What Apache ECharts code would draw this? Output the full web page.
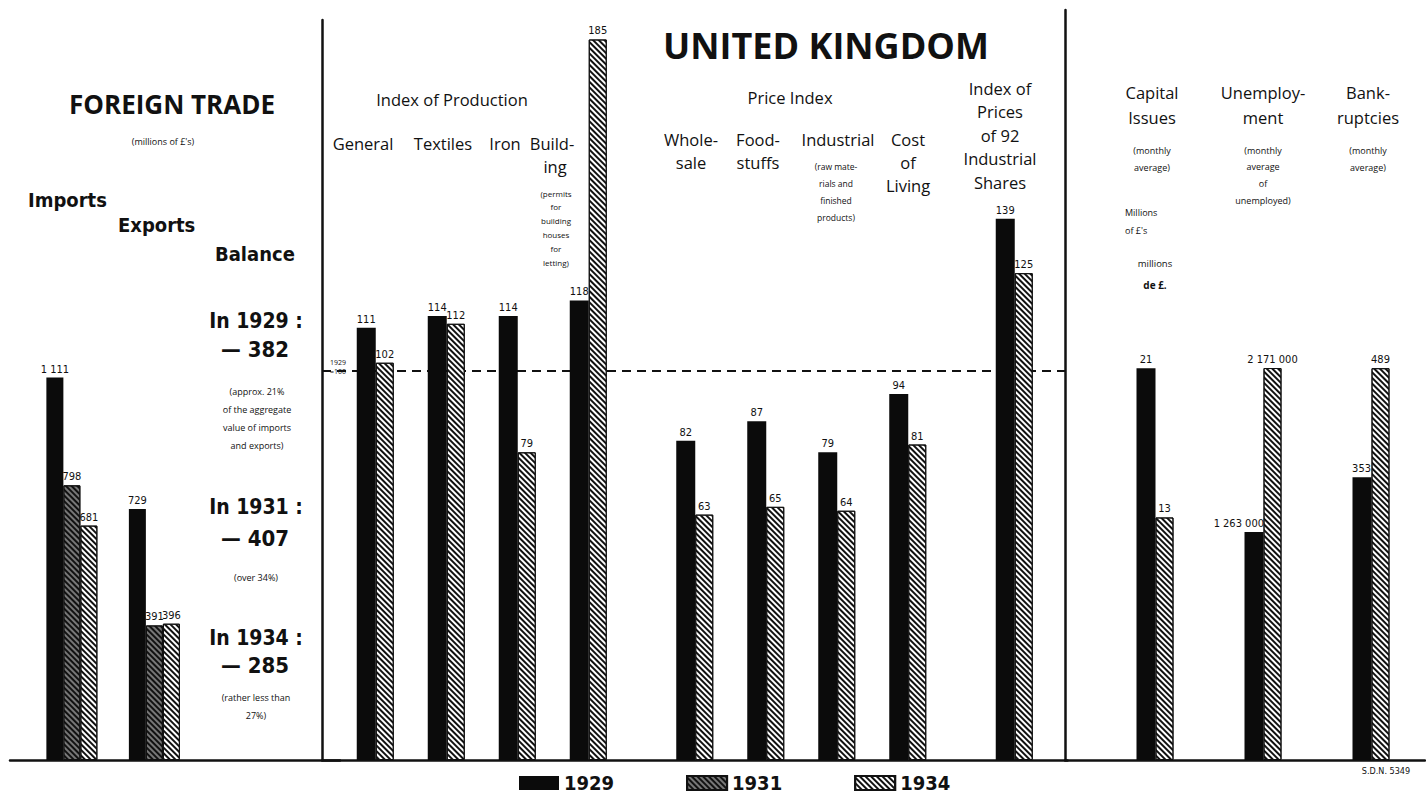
<!DOCTYPE html>
<html>
<head>
<meta charset="utf-8">
<title>United Kingdom</title>
<script src="https://cdn.jsdelivr.net/npm/echarts@6/dist/echarts.min.js"></script>
<style>
  html, body { margin: 0; padding: 0; background: #fff; }
  #chart { width: 1426px; height: 797px; }
</style>
</head>
<body>
<div id="chart"></div>
<script>
// foreign trade, millions of £'s
var tradeGroups = ['Imports', 'Exports']
var trade1929 = [1111, 729]
var trade1931 = [798, 391]
var trade1934 = [681, 396]

// index numbers (1929 = 100)
var indexGroups = ['General', 'Textiles', 'Iron', 'Building', 'Wholesale', 'Foodstuffs', 'Industrial', 'Cost of Living', 'Industrial Shares']
var index1929 = [111, 114, 114, 118, 82, 87, 79, 94, 139]
var index1934 = [102, 112, 79, 185, 63, 65, 64, 81, 125]
var indexBase = 100

// each one on its own scale
var otherGroups = ['Capital Issues', 'Unemployment', 'Bankruptcies']
var other1929 = [21, 1263000, 353]
var other1934 = [13, 2171000, 489]

var years = ['1929', '1931', '1934']

// layout: which category slot each group sits in
var tradeSlots = [1, 3]
var tradeSlotCount = 8
var indexSlots = [1, 3, 5, 7, 10, 12, 14, 16, 19]
var indexSlotCount = 21
var otherSlots = [2, 5, 8]
var otherSlotCount = 10
var otherAxisMax = [40.2, 4154000, 936]

var plain = "'Open Sans', 'Liberation Sans', sans-serif"
var narrow = "'Liberation Sans Narrow', 'DejaVu Sans Condensed', sans-serif"
var cond = "'DejaVu Sans Condensed', 'Liberation Sans Narrow', sans-serif"

function slotCats(names, slots, n) {
  var cats = []
  for (var i = 0; i < n; i++) cats.push('gap' + i)
  slots.forEach(function (s, k) { cats[s] = names[k] })
  return cats
}
function spread(values, slots, n) {
  var arr = []
  for (var i = 0; i < n; i++) arr.push('-')
  slots.forEach(function (s, k) { arr[s] = values[k] })
  return arr
}
function fmt(v) {
  return String(v).replace(/\B(?=(\d{3})+(?!\d))/g, ' ')
}

var solid = { color: '#0b0b0b' }
var hatch = {
  color: '#fff',
  borderColor: '#111',
  borderWidth: 1,
  decal: { symbol: 'rect', symbolSize: 1, dashArrayX: [1, 0], dashArrayY: [2, 2], rotation: Math.PI / 4, color: '#111', backgroundColor: '#fff' }
}
var hatchDark = {
  color: '#777',
  borderColor: '#111',
  borderWidth: 1,
  decal: { symbol: 'rect', symbolSize: 1, dashArrayX: [1, 0], dashArrayY: [2, 2], rotation: Math.PI / 4, color: '#111', backgroundColor: '#8a8a8a' }
}
var valueLabel = {
  show: true,
  position: 'top',
  distance: 3,
  color: '#111',
  fontSize: 11,
  fontFamily: narrow,
  formatter: function (p) { return fmt(p.value) }
}

function bar(name, xi, data, style, width, label) {
  return {
    name: name,
    type: 'bar',
    xAxisIndex: xi,
    yAxisIndex: xi,
    barWidth: width,
    barGap: '0%',
    data: data,
    itemStyle: style,
    label: Object.assign({}, valueLabel, label),
    emphasis: { disabled: true }
  }
}

function hiddenAxis(extra) {
  return Object.assign({
    axisLine: { show: false },
    axisTick: { show: false },
    axisLabel: { show: false },
    splitLine: { show: false }
  }, extra)
}
var baseLine = { show: true, lineStyle: { color: '#111', width: 2.5 } }

// texts
function txt(x, y, text, size, o) {
  o = o || {}
  return {
    type: 'text',
    x: x,
    y: y,
    silent: true,
    style: {
      text: text,
      fill: '#111',
      fontSize: size,
      fontFamily: o.family || plain,
      fontWeight: o.weight || 'normal',
      align: o.align || 'center',
      textAlign: o.align || 'center',
      verticalAlign: 'middle',
      textVerticalAlign: 'middle'
    }
  }
}
function lines(x, y0, step, arr, size, o) {
  return arr.map(function (t, i) { return txt(x, y0 + i * step, t, size, o) })
}
var bold = { family: cond, weight: 'bold' }

var texts = [
  txt(172, 104, 'FOREIGN TRADE', 26, { weight: 'bold' }),
  txt(163, 141, "(millions of £'s)", 9),
  txt(28, 200, 'Imports', 20, { family: cond, weight: 'bold', align: 'left' }),
  txt(118, 225, 'Exports', 20, { family: cond, weight: 'bold', align: 'left' }),
  txt(215, 254, 'Balance', 20, { family: cond, weight: 'bold', align: 'left' }),
  txt(256, 321, 'In 1929 :', 21, bold),
  txt(255, 349, '— 382', 22, bold),
  txt(256, 507, 'In 1931 :', 21, bold),
  txt(255, 538, '— 407', 22, bold),
  txt(256, 638, 'In 1934 :', 21, bold),
  txt(255, 665, '— 285', 22, bold),
  txt(256, 577, '(over 34%)', 9),
  txt(338, 362, '1929', 7),
  txt(338, 371, '=100', 7),

  txt(452, 99, 'Index of Production', 16.5),
  txt(363, 143, 'General', 16.5),
  txt(443, 143, 'Textiles', 16.5),
  txt(505, 143, 'Iron', 16.5),
  txt(552, 143, 'Build-', 16.5),
  txt(555, 166, 'ing', 16.5),

  txt(826, 45, 'UNITED KINGDOM', 36, { weight: 'bold' }),
  txt(790, 97, 'Price Index', 16.5),
  txt(908, 139, 'Cost', 16.5),
  txt(908, 162, 'of', 16.5),
  txt(908, 185, 'Living', 16.5),
  txt(691, 139, 'Whole-', 16.5),
  txt(691, 162, 'sale', 16.5),
  txt(758, 139, 'Food-', 16.5),
  txt(758, 162, 'stuffs', 16.5),
  txt(838, 139, 'Industrial', 16.5),

  txt(1152, 92, 'Capital', 16.5),
  txt(1152, 117, 'Issues', 16.5),
  txt(1263, 92, 'Unemploy-', 16.5),
  txt(1263, 117, 'ment', 16.5),
  txt(1368, 92, 'Bank-', 16.5),
  txt(1368, 117, 'ruptcies', 16.5),
  txt(1125, 212, 'Millions', 9, { align: 'left' }),
  txt(1125, 230, "of £'s", 9, { align: 'left' }),
  txt(1155, 263, 'millions', 9.5),
  txt(1155, 285, 'de £.', 10, { weight: 'bold' }),
  txt(1386, 771, 'S.D.N. 5349', 9, { family: narrow })
]
  .concat(lines(257, 391, 18, ['(approx. 21%', 'of the aggregate', 'value of imports', 'and exports)'], 9))
  .concat(lines(256, 697, 18, ['(rather less than', '27%)'], 9))
  .concat(lines(556, 193, 13.8, ['(permits', 'for', 'building', 'houses', 'for', 'letting)'], 8))
  .concat(lines(836, 166, 17, ['(raw mate-', 'rials and', 'finished', 'products)'], 8.5))
  .concat(lines(1000, 88, 23.5, ['Index of', 'Prices', 'of 92', 'Industrial', 'Shares'], 16.5))
  .concat(lines(1152, 150, 17, ['(monthly', 'average)'], 9))
  .concat(lines(1263, 150, 16.7, ['(monthly', 'average', 'of', 'unemployed)'], 9))
  .concat(lines(1368, 150, 17, ['(monthly', 'average)'], 9))

var xAxes = [
  hiddenAxis({ type: 'category', gridIndex: 0, data: slotCats(tradeGroups, tradeSlots, tradeSlotCount), axisLine: baseLine }),
  hiddenAxis({ type: 'category', gridIndex: 1, data: slotCats(indexGroups, indexSlots, indexSlotCount), axisLine: baseLine }),
  hiddenAxis({ type: 'category', gridIndex: 2, data: slotCats(otherGroups, otherSlots, otherSlotCount), axisLine: baseLine }),
  hiddenAxis({ type: 'category', gridIndex: 2, data: slotCats(otherGroups, otherSlots, otherSlotCount) }),
  hiddenAxis({ type: 'category', gridIndex: 2, data: slotCats(otherGroups, otherSlots, otherSlotCount) })
]
var yAxes = [
  hiddenAxis({ type: 'value', gridIndex: 0, min: 0, max: 2150 }),
  hiddenAxis({ type: 'value', gridIndex: 1, min: 0, max: 190, axisLine: { show: true, lineStyle: { color: '#111', width: 2.5 } } }),
  hiddenAxis({ type: 'value', gridIndex: 2, min: 0, max: otherAxisMax[0], axisLine: { show: true, lineStyle: { color: '#111', width: 2.5 } } }),
  hiddenAxis({ type: 'value', gridIndex: 2, min: 0, max: otherAxisMax[1] }),
  hiddenAxis({ type: 'value', gridIndex: 2, min: 0, max: otherAxisMax[2] })
]

var series = [
  bar('1929', 0, spread(trade1929, tradeSlots, tradeSlotCount), solid, 17),
  bar('1931', 0, spread(trade1931, tradeSlots, tradeSlotCount), hatchDark, 17),
  bar('1934', 0, spread(trade1934, tradeSlots, tradeSlotCount), hatch, 17),
  bar('1929', 1, spread(index1929, indexSlots, indexSlotCount), solid, 19),
  Object.assign(bar('1934', 1, spread(index1934, indexSlots, indexSlotCount), hatch, 18), {
    markLine: {
      silent: true,
      symbol: 'none',
      z: 1,
      label: { show: false },
      lineStyle: { type: [9, 6], color: '#111', width: 2 },
      data: [{ yAxis: indexBase }]
    }
  })
]
// the 1929 labels on the right sit against the bar's right edge
var otherLabel1929 = [{}, { align: 'right', offset: [10, 0] }, { align: 'right', offset: [9, 0] }]
otherGroups.forEach(function (g, k) {
  series.push(bar('1929', 2 + k, spread([other1929[k]], [otherSlots[k]], otherSlotCount), solid, 19, otherLabel1929[k]))
  series.push(bar('1934', 2 + k, spread([other1934[k]], [otherSlots[k]], otherSlotCount), hatch, 18))
})

var chart = echarts.init(document.getElementById('chart'), null, { renderer: 'svg' })
chart.setOption({
  animation: false,
  backgroundColor: '#fff',
  grid: [
    { left: 10, top: 20, width: 330, bottom: 37 },
    { left: 322, top: 20, width: 745.5, bottom: 37 },
    { left: 1065, top: 10, width: 360, bottom: 37 }
  ],
  legend: {
    data: years,
    left: 514,
    top: 768,
    itemWidth: 40,
    itemHeight: 14,
    itemGap: 72,
    icon: 'rect',
    textStyle: { fontSize: 20, fontWeight: 'bold', fontFamily: narrow, color: '#111' }
  },
  xAxis: xAxes,
  yAxis: yAxes,
  series: series,
  graphic: texts
})
</script>
</body>
</html>
